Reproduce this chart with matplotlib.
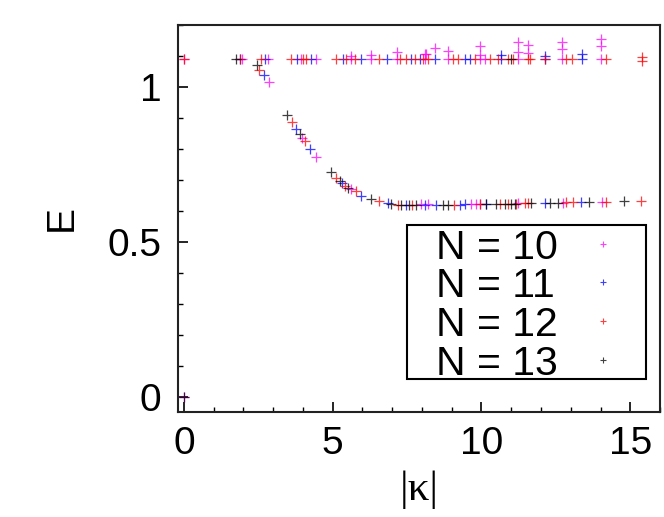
import matplotlib
matplotlib.use("Agg")
import matplotlib.pyplot as plt
from matplotlib.ticker import MultipleLocator
from matplotlib.patches import Rectangle

# ---- data ----
labels = ["N = 10", "N = 11", "N = 12", "N = 13"]
colors = ["#ff00ff", "#0000ff", "#ff0000", "#000000"]

k10 = [0.0, 0.0, 1.96, 2.83, 2.85, 3.95, 3.97, 4.45, 4.45, 5.63, 5.63, 5.63, 6.28, 6.28,
       7.16, 7.16, 7.98, 8.09, 8.09, 8.15, 8.20, 8.43, 8.87, 8.87, 9.66, 9.83, 9.94, 9.94,
       9.94, 9.94, 10.11, 11.23, 11.23, 11.23, 11.23, 11.56, 11.56, 12.72, 12.72, 12.72,
       12.74, 14.03, 14.03, 14.03, 14.06]
e10 = [1.089, 0.0, 1.089, 1.089, 1.017, 1.089, 0.836, 1.089, 0.775, 1.089, 1.098, 0.670,
       1.089, 1.103, 1.089, 1.114, 0.622, 1.089, 1.105, 1.106, 0.622, 1.125, 1.089, 1.117,
       0.623, 0.623, 1.089, 1.133, 1.103, 0.623, 1.089, 1.144, 1.114, 1.089, 0.625, 1.135,
       1.109, 1.146, 1.122, 1.089, 0.627, 1.154, 1.132, 1.089, 0.630]

k11 = [1.88, 2.69, 2.71, 3.78, 3.81, 4.25, 4.28, 5.32, 5.35, 5.96, 5.96, 6.84, 6.86, 7.45,
       7.64, 7.92, 8.09, 8.43, 8.46, 9.27, 9.44, 9.44, 9.60, 10.16, 10.67, 10.67, 12.12,
       12.12, 12.12, 13.36, 13.39, 13.39]
e11 = [1.089, 1.037, 1.089, 0.865, 1.089, 0.801, 1.089, 0.689, 1.089, 1.089, 0.649, 1.089,
       0.627, 0.619, 1.089, 1.089, 0.618, 1.089, 0.619, 0.620, 1.089, 0.621, 1.089, 0.622,
       1.089, 1.103, 1.089, 1.100, 0.627, 0.629, 1.089, 1.106]

k12 = [0.0, 1.87, 2.54, 2.58, 3.61, 3.63, 4.00, 4.06, 4.11, 5.12, 5.12, 5.41, 5.46, 5.74,
       5.77, 6.54, 6.54, 7.19, 7.25, 7.47, 7.68, 7.75, 8.03, 8.20, 9.04, 9.07, 9.21, 9.77,
       9.94, 10.28, 10.55, 10.61, 10.89, 10.89, 11.06, 11.17, 11.45, 11.56, 11.56, 11.62,
       12.12, 12.83, 12.85, 13.05, 13.08, 14.18, 14.20, 15.37, 15.41, 15.41]
e12 = [1.089, 1.089, 1.055, 1.089, 1.089, 0.887, 1.089, 0.827, 1.089, 1.089, 0.705, 0.682,
       1.089, 1.089, 0.665, 1.089, 0.633, 0.620, 1.089, 1.089, 0.618, 1.089, 1.089, 1.089,
       1.089, 0.620, 1.089, 1.089, 0.622, 1.089, 1.089, 0.623, 1.089, 0.624, 1.089, 0.624,
       0.625, 1.089, 0.625, 1.089, 1.089, 1.089, 0.628, 1.089, 0.628, 1.089, 0.630, 0.632,
       1.083, 1.095]

k13 = [0.0, 1.76, 2.47, 3.47, 3.89, 4.93, 5.23, 5.51, 6.28, 6.95, 7.31, 7.56, 7.79, 8.71,
       8.87, 10.16, 10.50, 10.78, 11.00, 11.00, 11.12, 11.68, 12.29, 12.57, 13.61, 14.78]
e13 = [0.0, 1.089, 1.071, 0.909, 0.847, 0.725, 0.697, 0.675, 0.639, 0.621, 0.619, 0.618,
       0.618, 0.619, 0.619, 0.622, 0.623, 0.623, 0.624, 1.089, 0.624, 0.625, 0.626, 0.627,
       0.629, 0.631]

kappas = [k10, k11, k12, k13]
energies = [e10, e11, e12, e13]

xticks = [0, 5, 10, 15]
yticks = [0, 0.5, 1]
yticklabels = ["0", "0.5", "1"]

# ---- figure ----
plt.rcParams["font.family"] = ["Liberation Sans", "DejaVu Sans"]
fig = plt.figure(figsize=(6.64, 5.17), dpi=100)
ax = fig.add_axes([0.268, 0.203, 0.726, 0.749])

for k, e, lab, c in zip(kappas, energies, labels, colors):
    ax.plot(k, e, linestyle="none", marker="+", markersize=6.5, markeredgewidth=0.9,
            color=c, alpha=0.75, label=lab)

ax.set_xlim(-0.2, 16.0)
ax.set_ylim(-0.048, 1.2)
ax.set_xticks(xticks)
ax.set_yticks(yticks)
ax.set_yticklabels(yticklabels)
ax.xaxis.set_minor_locator(MultipleLocator(1))
ax.yaxis.set_minor_locator(MultipleLocator(0.1))
ax.tick_params(which="major", direction="in", length=7, width=1.2, labelsize=28,
               top=False, right=False)
ax.tick_params(axis="x", which="major", pad=10)
ax.tick_params(axis="y", which="major", pad=12)
ax.tick_params(which="minor", direction="in", length=3.5, width=1.0,
               top=False, right=False)
for s in ax.spines.values():
    s.set_linewidth(1.5)
    s.set_color("#222222")

ax.set_ylabel("E", fontsize=28, labelpad=20)
ax.set_xlabel("|κ|", fontsize=31, family=["Liberation Serif", "DejaVu Serif"], labelpad=6)

# legend: frame, left-aligned labels and aligned sample markers
ax.add_patch(Rectangle((0.4745, 0.085), 0.970 - 0.4745, 0.483 - 0.085,
                       transform=ax.transAxes, facecolor="white", edgecolor="black",
                       linewidth=1.5, zorder=5))
row_y = [0.434, 0.336, 0.235, 0.134]
for lab, c, yy in zip(labels, colors, row_y):
    ax.text(0.535, yy, lab, transform=ax.transAxes, fontsize=29.5,
            ha="left", va="center_baseline", zorder=6)
    ax.plot([0.882], [yy], transform=ax.transAxes, linestyle="none", marker="+",
            markersize=5, markeredgewidth=0.8, color=c, alpha=0.75, zorder=6,
            clip_on=False)

fig.savefig("out.png", dpi=100)
